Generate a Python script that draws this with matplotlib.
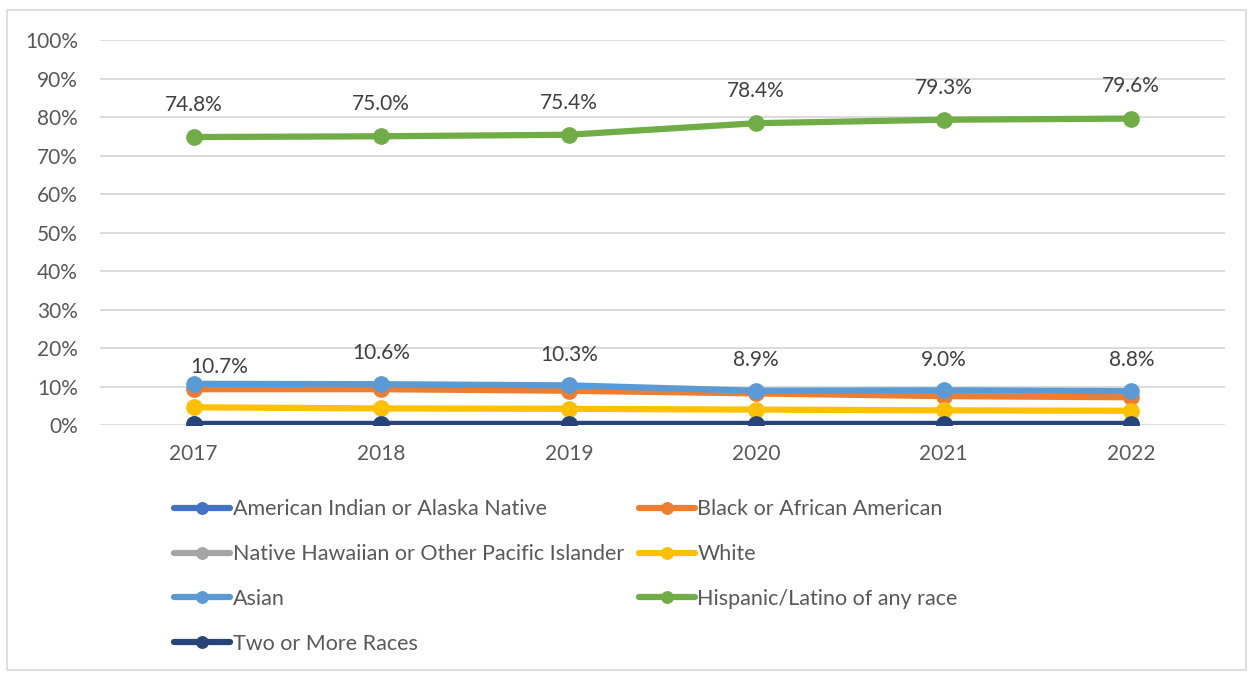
import matplotlib.pyplot as plt
from matplotlib.patches import Rectangle
from matplotlib.ticker import PercentFormatter

plt.rcParams['font.family'] = ['Lato', 'DejaVu Sans']

years = ['2017', '2018', '2019', '2020', '2021', '2022']

# valores em %
american_indian = [0.2, 0.2, 0.2, 0.2, 0.2, 0.2]
black = [9.3, 9.3, 8.9, 8.2, 7.5, 7.2]
native_hawaiian = [0.1, 0.1, 0.1, 0.1, 0.1, 0.1]
white = [4.6, 4.3, 4.2, 4.0, 3.8, 3.7]
asian = [10.7, 10.6, 10.3, 8.9, 9.0, 8.8]
hispanic = [74.8, 75.0, 75.4, 78.4, 79.3, 79.6]
two_more = [0.3, 0.3, 0.3, 0.3, 0.3, 0.3]

names = ['American Indian or Alaska Native', 'Black or African American',
         'Native Hawaiian or Other Pacific Islander', 'White', 'Asian',
         'Hispanic/Latino of any race', 'Two or More Races']
series = [american_indian, black, native_hawaiian, white, asian, hispanic, two_more]
colors = ['#4472C4', '#ED7D31', '#A5A5A5', '#FFC000', '#5B9BD5', '#70AD47', '#264478']

grey = '#595959'
fig = plt.figure(figsize=(12.5, 6.73), dpi=100)
ax = fig.add_axes([0.08, 0.3685, 0.90, 0.572])

x = list(range(len(years)))
lines = []
for s, c, n in zip(series, colors, names):
    ln, = ax.plot(x, s, color=c, lw=4.5, marker='o', ms=11, label=n, solid_capstyle='round')
    lines.append(ln)

# rótulos de dados
for i, v in enumerate(hispanic):
    ax.annotate(f'{v:.1f}%', (i, v), xytext=(0, 16), textcoords='offset points',
                ha='center', va='bottom', fontsize=15, color='#404040')
for i, v in enumerate(asian):
    off = (18, 5) if i == 0 else (0, 15)
    ax.annotate(f'{v:.1f}%', (i, v), xytext=off, textcoords='offset points',
                ha='center', va='bottom', fontsize=15, color='#404040')

ax.set_xlim(-0.5, 5.5)
ax.set_ylim(0, 100)
ax.set_yticks(range(0, 101, 10))
ax.yaxis.set_major_formatter(PercentFormatter(decimals=0))
ax.set_xticks(x)
ax.set_xticklabels(years)
ax.tick_params(axis='both', length=0, labelsize=15, labelcolor=grey)
ax.tick_params(axis='y', pad=16)
ax.tick_params(axis='x', pad=14)
ax.grid(axis='y', color='#d9d9d9', lw=1.3)
ax.set_axisbelow(True)
for sp in ax.spines.values():
    sp.set_visible(False)

# legenda em 2 colunas, preenchida por linha como no Excel
order = [0, 2, 4, 6, 1, 3, 5]
leg = fig.legend([lines[k] for k in order], [names[k] for k in order],
                 loc='upper left', bbox_to_anchor=(0.1395, 0.258), ncol=2, frameon=False,
                 fontsize=15.5, handlelength=2.6, handletextpad=0.1, columnspacing=0.72,
                 labelspacing=1.15, borderpad=0, borderaxespad=0, markerscale=0.75)
for t in leg.get_texts():
    t.set_color(grey)

fig.patches.append(Rectangle((0.0056, 0.0045), 0.991, 0.981, transform=fig.transFigure,
                             fill=False, ec='#d9d9d9', lw=1.2))

plt.savefig('out.png', dpi=100)
